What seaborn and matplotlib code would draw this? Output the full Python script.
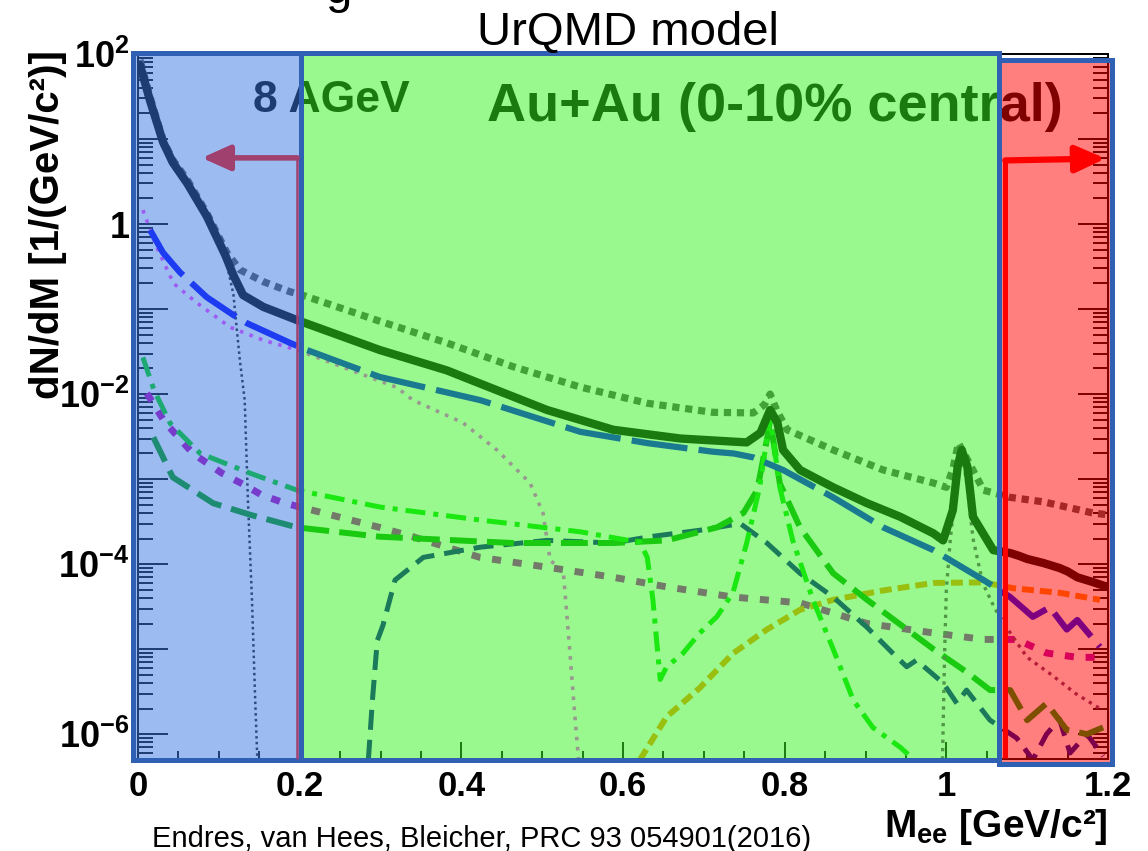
import numpy as np
import pandas as pd
import matplotlib
matplotlib.use("Agg")
import matplotlib.pyplot as plt
import seaborn as sns
from matplotlib.patches import Rectangle, FancyArrowPatch
from matplotlib.ticker import LogLocator, NullFormatter, MultipleLocator

sns.set_style("ticks")
plt.rcParams['font.family'] = ['Liberation Sans', 'DejaVu Sans']
plt.rcParams['mathtext.fontset'] = 'custom'
plt.rcParams['mathtext.rm'] = 'Liberation Sans'
plt.rcParams['mathtext.bf'] = 'Liberation Sans:bold'
plt.rcParams['mathtext.it'] = 'Liberation Sans:italic'
plt.rcParams['text.color'] = 'black'
plt.rcParams['axes.labelcolor'] = 'black'
plt.rcParams['xtick.color'] = 'black'
plt.rcParams['ytick.color'] = 'black'
plt.rcParams['axes.edgecolor'] = 'black'

# ---------------- data ----------------
total_x = [0.0025, 0.015, 0.031, 0.043, 0.061, 0.085, 0.108, 0.118, 0.130, 0.155, 0.197, 0.299, 0.382, 0.444,
           0.506, 0.588, 0.671, 0.753, 0.770, 0.782, 0.791, 0.798, 0.819, 0.860, 0.902, 0.943,
           0.984, 0.996, 1.008, 1.014, 1.019, 1.026, 1.033, 1.058, 1.079, 1.090, 1.100, 1.120,
           1.140, 1.150, 1.162, 1.180, 1.199]
total_y = [74, 28, 9.2, 5.3, 3.0, 1.24, 0.43, 0.25, 0.146, 0.106, 0.074, 0.033, 0.019, 0.0111,
           6.5e-3, 3.8e-3, 3.0e-3, 2.7e-3, 3.5e-3, 6.5e-3, 4.6e-3, 2.2e-3, 1.28e-3, 8.0e-4, 5.2e-4, 3.6e-4,
           2.3e-4, 1.9e-4, 4.3e-4, 1.4e-3, 2.2e-3, 1.4e-3, 3.6e-4, 1.46e-4, 1.35e-4, 1.25e-4, 1.15e-4, 1.03e-4,
           9.0e-5, 8.2e-5, 7.0e-5, 6.2e-5, 5.4e-5]

dotted_x = [0.0025, 0.015, 0.031, 0.043, 0.061, 0.085, 0.110, 0.126, 0.155, 0.188, 0.204, 0.299, 0.382, 0.464,
            0.547, 0.630, 0.711, 0.761, 0.775, 0.782, 0.790, 0.803, 0.860, 0.922, 0.984, 1.000,
            1.008, 1.015, 1.026, 1.046, 1.079, 1.120, 1.181, 1.200]
dotted_y = [85, 31, 9.7, 5.7, 3.3, 1.35, 0.46, 0.29, 0.21, 0.16, 0.145, 0.072, 0.040, 0.021,
            0.0121, 7.8e-3, 6.1e-3, 6.0e-3, 7.5e-3, 1.0e-2, 6.5e-3, 3.8e-3, 2.2e-3, 1.28e-3, 9.0e-4, 8.0e-4,
            1.3e-3, 2.65e-3, 1.7e-3, 7.4e-4, 6.1e-4, 5.4e-4, 4.0e-4, 3.8e-4]

blue_x = [0.015, 0.031, 0.052, 0.085, 0.118, 0.135, 0.188, 0.209, 0.299, 0.423, 0.547, 0.630,
          0.711, 0.737, 0.761, 0.798, 0.860, 0.922, 0.984, 1.046, 1.079, 1.107, 1.128, 1.149,
          1.162, 1.190]
blue_y = [0.85, 0.46, 0.27, 0.138, 0.085, 0.068, 0.040, 0.033, 0.0159, 8.5e-3, 3.6e-3, 2.65e-3,
          2.1e-3, 2.0e-3, 1.8e-3, 1.28e-3, 6.1e-4, 2.7e-4, 1.46e-4, 6.5e-5, 4.1e-5, 2.4e-5, 3.1e-5, 1.7e-5,
          2.2e-5, 1.06e-5]

eta_x = [0.006, 0.023, 0.044, 0.073, 0.114, 0.155, 0.197, 0.320, 0.340, 0.402, 0.444, 0.485,
         0.501, 0.510, 0.526, 0.534, 0.541, 0.546]
eta_y = [1.46, 0.54, 0.20, 0.118, 0.061, 0.043, 0.033, 0.012, 8.5e-3, 4.6e-3, 2.2e-3, 9.0e-4,
         4.0e-4, 1.1e-4, 8.5e-5, 1e-5, 1.4e-6, 4e-7]

pi0_x = [0.0025, 0.015, 0.031, 0.061, 0.085, 0.108, 0.118, 0.126, 0.132, 0.136, 0.141, 0.145, 0.148]
pi0_y = [70, 26, 9.0, 2.9, 1.2, 0.40, 0.15, 0.025, 8.5e-3, 5.6e-4, 3.8e-5, 2.5e-6, 4e-7]

omega_x = [0.006, 0.020, 0.040, 0.077, 0.139, 0.197, 0.299, 0.423, 0.547, 0.621, 0.630, 0.637,
           0.646, 0.654, 0.674, 0.695, 0.716, 0.736, 0.753, 0.769, 0.782, 0.794, 0.810, 0.835,
           0.860, 0.885, 0.909, 0.943, 0.960]
omega_y = [0.027, 0.011, 4.5e-3, 2.0e-3, 1.17e-3, 7.4e-4, 4.7e-4, 3.3e-4, 2.4e-4, 1.8e-4, 1.2e-4, 3.8e-5,
           4.4e-6, 6.2e-6, 8.9e-6, 1.55e-5, 2.4e-5, 4.6e-5, 1.77e-4, 8.0e-4, 5.4e-3, 8e-4, 1.9e-4, 3.8e-5,
           1.0e-5, 2.5e-6, 1.2e-6, 7e-7, 5e-7]

rho_x = [0.019, 0.043, 0.093, 0.139, 0.197, 0.299, 0.464, 0.588, 0.654, 0.716, 0.749, 0.766,
         0.778, 0.782, 0.794, 0.819, 0.860, 0.902, 0.984, 1.026, 1.054, 1.079, 1.100, 1.124,
         1.149, 1.174, 1.194]
rho_y = [3.1e-3, 1.05e-3, 5.2e-4, 3.8e-4, 2.7e-4, 2.1e-4, 1.77e-4, 1.77e-4, 1.9e-4, 2.7e-4, 4.0e-4, 7.4e-4,
         2.9e-3, 5.0e-3, 8.9e-4, 2.7e-4, 7.8e-5, 3.8e-5, 1e-5, 5.3e-6, 3.3e-6, 3.3e-6, 1.46e-6, 2.3e-6,
         1.12e-6, 1.0e-6, 1.2e-6]

navy_x = [0.285, 0.290, 0.296, 0.303, 0.318, 0.353, 0.423, 0.506, 0.588, 0.633, 0.695, 0.745,
          0.778, 0.819, 0.860, 0.902, 0.934, 0.951, 0.963, 0.996, 1.013, 1.025, 1.054, 1.087,
          1.107, 1.124, 1.140, 1.153, 1.174, 1.194]
navy_y = [5e-7, 2.5e-6, 1.26e-5, 1.9e-5, 6.5e-5, 1.2e-4, 1.58e-4, 1.9e-4, 1.77e-4, 2.1e-4, 2.5e-4, 3.0e-4,
          1.77e-4, 7.8e-5, 4.1e-5, 1.8e-5, 8.9e-6, 6.2e-6, 7.4e-6, 4.0e-6, 2.3e-6, 3.3e-6, 1.46e-6, 9e-7,
          5e-7, 1e-6, 1.5e-6, 6e-7, 1e-6, 5.5e-7]

delta_x = [0.011, 0.033, 0.068, 0.104, 0.132, 0.153, 0.182, 0.299, 0.340, 0.423, 0.506, 0.588,
           0.654, 0.736, 0.819, 0.902, 0.984, 1.046, 1.087, 1.124, 1.162, 1.190]
delta_y = [0.0102, 4.7e-3, 2.0e-3, 1.17e-3, 8.5e-4, 6.5e-4, 5.2e-4, 2.7e-4, 2.1e-4, 1.2e-4, 9.2e-5, 7.0e-5,
           5.4e-5, 4.1e-5, 3.5e-5, 2.0e-5, 1.55e-5, 1.3e-5, 1.3e-5, 9e-6, 8e-6, 8e-6]

orange_x = [0.621, 0.654, 0.695, 0.736, 0.778, 0.819, 0.860, 0.922, 0.984, 1.046, 1.083, 1.140, 1.190]
orange_y = [5e-7, 1.6e-6, 3.5e-6, 8.9e-6, 1.7e-5, 2.9e-5, 3.8e-5, 4.9e-5, 6.0e-5, 6.1e-5, 5.2e-5, 4.6e-5, 3.8e-5]

phi_x = [0.995, 0.998, 1.000, 1.005, 1.012, 1.019, 1.026, 1.033, 1.045, 1.060, 1.080, 1.100,
         1.130, 1.160, 1.190]
phi_y = [4e-7, 1e-5, 5e-5, 2e-4, 8e-4, 2.2e-3, 8e-4, 2e-4, 6e-5, 3e-5, 1.5e-5, 8e-6,
         5e-6, 3e-6, 2e-6]

x_ticks = [0, 0.2, 0.4, 0.6, 0.8, 1.0, 1.2]
x_ticklabels = ["0", "0.2", "0.4", "0.6", "0.8", "1", "1.2"]
y_ticks = [1e-6, 1e-5, 1e-4, 1e-3, 1e-2, 1e-1, 1, 10, 100]
y_ticklabels = [r"$\mathbf{10^{-6}}$", "", r"$\mathbf{10^{-4}}$", "", r"$\mathbf{10^{-2}}$", "",
                r"$\mathbf{1}$", "", r"$\mathbf{10^{2}}$"]

# ---------------- figure ----------------
W, H = 1148, 851
fig = plt.figure(figsize=(W / 100, H / 100), dpi=100)
fig.patch.set_facecolor("white")


def fx(px):
    return px / W


def fy(py):
    return 1 - py / H


ax = fig.add_axes([fx(138), fy(759), 970 / W, 705 / H])
ax.set_facecolor("white")

curves = [
    (dotted_x, dotted_y, "#505050", 5.2, (0, (1, 0.8)), 2.1),
    (pi0_x, pi0_y, "#202020", 1.8, (0, (1, 1.3)), 2.2),
    (eta_x, eta_y, "#ff40ff", 2.6, (0, (1, 1.8)), 2.2),
    (delta_x, delta_y, "#b400b4", 5.0, (0, (1.3, 1.7)), 2.3),
    (orange_x, orange_y, "#ff8c00", 4.3, (0, (2, 1)), 2.3),
    (navy_x, navy_y, "#000096", 3.6, (0, (4, 2)), 2.3),
    (rho_x, rho_y, "#00a000", 4.3, (0, (4.5, 1.7)), 2.4),
    (omega_x, omega_y, "#00dc00", 3.6, (0, (4, 1.6, 1, 1.6)), 2.4),
    (phi_x, phi_y, "#6e3c6e", 2.4, (0, (1, 1.5)), 2.4),
    (blue_x, blue_y, "#0000ff", 4.5, (0, (9, 1.8)), 2.6),
    (total_x, total_y, "black", 6.0, "-", 2.9),
]
for xs, ys, col, lw, ls, zo in curves:
    sns.lineplot(x=xs, y=ys, ax=ax, color=col, linewidth=lw, linestyle=ls,
                 estimator=None, sort=False, legend=False, zorder=zo)

ax.set_yscale("log")
ax.set_xlim(0, 1.2)
ax.set_ylim(5.1e-7, 100)
ax.set_xlabel("")
ax.set_ylabel("")

ax.set_xticks(x_ticks)
ax.set_xticklabels(x_ticklabels, fontweight="bold")
ax.xaxis.set_minor_locator(MultipleLocator(0.05))
ax.set_yticks(y_ticks)
ax.set_yticklabels(y_ticklabels)
ax.yaxis.set_minor_locator(LogLocator(base=10, subs=np.arange(2, 10), numticks=30))
ax.yaxis.set_minor_formatter(NullFormatter())

ax.tick_params(axis="y", which="major", direction="in", length=21.6, width=1.4,
               left=True, right=True, labelsize=26, pad=6, colors="black")
ax.tick_params(axis="y", which="minor", direction="in", length=10.8, width=1.4,
               left=True, right=True, colors="black")
ax.tick_params(axis="x", which="major", direction="in", length=12, width=1.4,
               bottom=True, top=False, labelsize=25, pad=8, colors="black")
ax.tick_params(axis="x", which="minor", direction="in", length=5.5, width=1.4,
               bottom=True, top=False, colors="black")
for s in ax.spines.values():
    s.set_linewidth(1.4)
    s.set_color("black")

# text inside the frame (tinted by the overlays)
ax.text(fx(253), fy(112), "8 AGeV", transform=fig.transFigure, fontsize=32,
        fontweight="bold", color="black", va="baseline", ha="left", zorder=5)
ax.text(fx(487), fy(121), "Au+Au (0-10% central)", transform=fig.transFigure, fontsize=39,
        fontweight="bold", color="black", va="baseline", ha="left", zorder=5)

# coloured overlay boxes
BORDER = "#3060b4"
boxes = [
    (133, 301, 53, 760, "#3b79e5"),
    (301, 999, 53, 760, "#34f420"),
    (999, 1112, 60, 764, "#ff0000"),
]
for x0, x1, yt, yb, col in boxes:
    ax.add_patch(Rectangle((fx(x0), fy(yb)), (x1 - x0) / W, (yb - yt) / H,
                           transform=fig.transFigure, facecolor=col, alpha=0.5,
                           edgecolor="none", clip_on=False, zorder=10))
for x0, x1, yt, yb, col in boxes:
    ax.add_patch(Rectangle((fx(x0), fy(yb)), (x1 - x0) / W, (yb - yt) / H,
                           transform=fig.transFigure, facecolor="none",
                           edgecolor=BORDER, linewidth=3.6, clip_on=False, zorder=11))

# arrows
ax.add_patch(FancyArrowPatch((0.197, 6.0), (0.079, 6.0), transform=ax.transData,
                             arrowstyle="-|>,head_length=1.0,head_width=0.45",
                             mutation_scale=17, color="#a0406e", linewidth=4.0,
                             shrinkA=0, shrinkB=0, clip_on=False, zorder=20))
ax.plot([0.197, 0.197], [6.0, 5.1e-7], color="#a0406e", linewidth=1.8, zorder=20,
        clip_on=False, solid_capstyle="butt")
ax.add_patch(FancyArrowPatch((1.073, 5.6), (1.197, 5.9), transform=ax.transData,
                             arrowstyle="-|>,head_length=1.0,head_width=0.45",
                             mutation_scale=18, color="#ff0000", linewidth=4.5,
                             shrinkA=0, shrinkB=0, clip_on=False, zorder=20))
ax.plot([1.073, 1.073], [5.6, 5.3e-7], color="#ff0000", linewidth=3.6, zorder=20,
        clip_on=False, solid_capstyle="butt")

# outer texts
fig.text(fx(477), fy(45), "UrQMD model", fontsize=34, va="baseline", ha="left", color="black")
fig.text(fx(326), fy(3), "g", fontsize=34, va="baseline", ha="left", color="black")
fig.text(fx(152), fy(847), "Endres, van Hees, Bleicher, PRC 93 054901(2016)",
         fontsize=21, va="baseline", ha="left", color="black")
fig.text(fx(48), fy(50), "dN/dM [1/(GeV/c²)]", rotation=90, fontsize=29,
         fontweight="bold", ha="center", va="top", color="black")
fig.text(fx(1108), fy(837), r"$\mathbf{M_{ee}}$ [GeV/c²]", fontsize=28,
         fontweight="bold", ha="right", va="baseline", color="black")

fig.savefig("out.png", dpi=100)
